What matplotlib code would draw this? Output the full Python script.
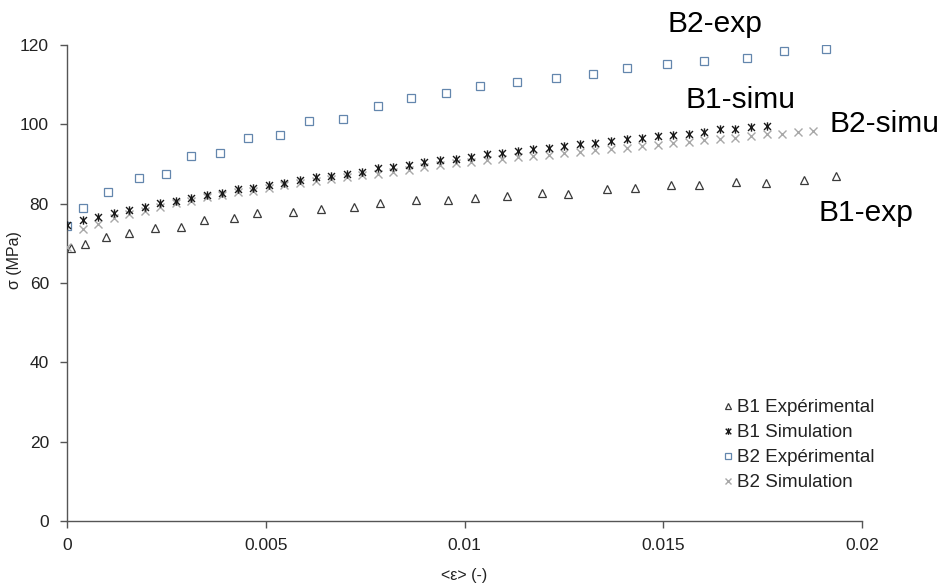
import matplotlib
matplotlib.use("Agg")
import matplotlib.pyplot as plt
from matplotlib.path import Path

plt.rcParams['font.family'] = ['Liberation Sans', 'DejaVu Sans']

# ---- data ----
b1_exp_strain = [0.00009, 0.00045, 0.00098, 0.00157, 0.00221, 0.00286, 0.00345, 0.00421,
                 0.00479, 0.00569, 0.00639, 0.00723, 0.00787, 0.00878, 0.00958, 0.01026,
                 0.01108, 0.01196, 0.01261, 0.01359, 0.01430, 0.01520, 0.01590, 0.01683,
                 0.01759, 0.01853, 0.01935]
b1_exp_stress = [68.7, 69.9, 71.7, 72.6, 73.9, 74.2, 75.9, 76.3, 77.6, 77.9, 78.6, 79.2,
                 80.1, 80.8, 81.0, 81.5, 82.0, 82.7, 82.5, 83.7, 83.9, 84.6, 84.6, 85.5,
                 85.3, 86.0, 86.9]

b2_exp_strain = [0.0, 0.00039, 0.00102, 0.00180, 0.00250, 0.00313, 0.00384, 0.00456,
                 0.00535, 0.00610, 0.00695, 0.00783, 0.00865, 0.00953, 0.01039, 0.01131,
                 0.01231, 0.01324, 0.01408, 0.01510, 0.01603, 0.01711, 0.01803, 0.01910]
b2_exp_stress = [74.4, 79.0, 82.9, 86.5, 87.5, 92.0, 92.8, 96.6, 97.4, 100.8, 101.4, 104.5,
                 106.6, 107.9, 109.6, 110.6, 111.6, 112.6, 114.2, 115.1, 116.0, 116.7,
                 118.5, 119.0]

sim_strain = [0.0, 0.00039, 0.00078, 0.00117, 0.00156, 0.00196, 0.00235, 0.00274, 0.00313,
              0.00352, 0.00391, 0.00430, 0.00469, 0.00508, 0.00547, 0.00587, 0.00626,
              0.00665, 0.00704, 0.00743, 0.00782, 0.00821, 0.00860, 0.00899, 0.00938,
              0.00978, 0.01017, 0.01056, 0.01095, 0.01134, 0.01173, 0.01212, 0.01251,
              0.01290, 0.01329, 0.01369, 0.01408, 0.01447, 0.01486, 0.01525, 0.01564,
              0.01603, 0.01642, 0.01681, 0.01720, 0.01760, 0.01799, 0.01838, 0.01877]

b1_sim_stress = [74.5, 75.8, 76.7, 77.7, 78.4, 79.1, 80.1, 80.7, 81.5, 82.2, 82.8, 83.6,
                 83.9, 84.8, 85.3, 86.0, 86.6, 87.0, 87.6, 88.1, 88.9, 89.2, 89.7, 90.4,
                 90.9, 91.3, 91.8, 92.4, 92.7, 93.3, 93.7, 94.1, 94.5, 95.0, 95.3, 95.8,
                 96.2, 96.6, 97.0, 97.4, 97.6, 98.1, 98.7, 98.9, 99.4, 99.6]

b2_sim_stress = [69.0, 73.5, 75.0, 76.3, 77.3, 78.1, 79.1, 80.1, 80.7, 81.6, 82.2, 82.9,
                 83.2, 83.9, 84.7, 85.3, 85.8, 86.2, 86.6, 87.2, 87.6, 88.0, 88.5, 89.3,
                 89.7, 90.2, 90.6, 90.9, 91.2, 91.7, 91.9, 92.3, 92.7, 93.1, 93.5, 93.8,
                 94.1, 94.5, 94.9, 95.2, 95.6, 96.0, 96.3, 96.6, 97.0, 97.5, 97.6, 98.0,
                 98.3]

series_labels = ["B1 Expérimental", "B1 Simulation", "B2 Expérimental", "B2 Simulation"]
x_ticks = [0, 0.005, 0.01, 0.015, 0.02]
x_ticklabels = ["0", "0.005", "0.01", "0.015", "0.02"]
y_ticks = [0, 20, 40, 60, 80, 100, 120]
annotations = [("B2-exp", 668, 32), ("B1-simu", 685, 108), ("B2-simu", 829, 132), ("B1-exp", 818, 221)]

# ---- figure ----
W, H = 938, 583
fig = plt.figure(figsize=(W / 100, H / 100), dpi=100)
ax = fig.add_axes([67 / W, 1 - 521 / H, (862 - 67) / W, (521 - 45) / H])

star = Path([(-1, -1), (1, 1), (-1, 1), (1, -1), (0, -1.2), (0, 1.2)],
            [Path.MOVETO, Path.LINETO, Path.MOVETO, Path.LINETO, Path.MOVETO, Path.LINETO])

ax.plot(b1_exp_strain, b1_exp_stress, linestyle='none', marker='^', ms=5.5,
        mfc='none', mec='#3a3a3a', mew=0.9, label=series_labels[0])
ax.plot(sim_strain[:len(b1_sim_stress)], b1_sim_stress, linestyle='none', marker=star, ms=6,
        mfc='none', mec='#1a1a1a', mew=1.0, label=series_labels[1], zorder=4)
ax.plot(b2_exp_strain, b2_exp_stress, linestyle='none', marker='s', ms=5.5,
        mfc='none', mec='#6386ad', mew=0.9, label=series_labels[2])
ax.plot(sim_strain[:len(b2_sim_stress)], b2_sim_stress, linestyle='none', marker='x', ms=5.5,
        mfc='none', mec='#a8a8a8', mew=1.0, label=series_labels[3], zorder=3)

ax.set_xlim(0, 0.02)
ax.set_ylim(0, 120)
ax.set_xticks(x_ticks)
ax.set_xticklabels(x_ticklabels)
ax.set_yticks(y_ticks)
for s in ['top', 'right']:
    ax.spines[s].set_visible(False)
for s in ['left', 'bottom']:
    ax.spines[s].set_color('#555555')
    ax.spines[s].set_linewidth(1.0)
ax.tick_params(axis='both', direction='out', length=5, width=1.0, color='#555555',
               labelsize=12.5, labelcolor='#222222')
ax.tick_params(axis='x', pad=7)
ax.tick_params(axis='y', pad=8)

ax.set_xlabel("<ε> (-)", fontsize=11.5, color='#222222', labelpad=0)
ax.xaxis.set_label_coords(0.5, -0.098)
ax.set_ylabel("σ (MPa)", fontsize=11.5, color='#222222', labelpad=0)
ax.yaxis.set_label_coords(-0.056, 0.548)

leg = ax.legend(loc='upper left', bbox_to_anchor=(721 / W, 1 - 399 / H),
                bbox_transform=fig.transFigure, frameon=False,
                prop={'size': 13.5},
                handlelength=0.7, handletextpad=0.15, labelspacing=0.42,
                borderpad=0, borderaxespad=0, markerscale=0.8)
for t in leg.get_texts():
    t.set_color('#222222')

for txt, px, py in annotations:
    fig.text(px / W, 1 - py / H, txt, fontsize=21.5, color='black', ha='left', va='baseline')

fig.savefig("out.png", dpi=100)
